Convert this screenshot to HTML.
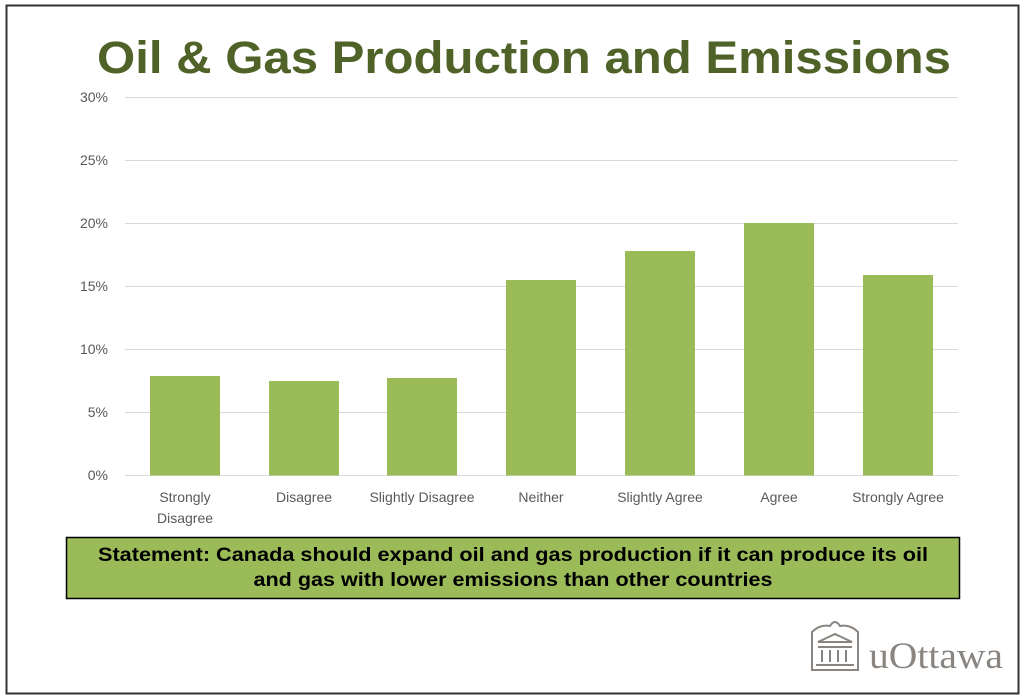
<!DOCTYPE html>
<html><head><meta charset="utf-8"><style>
html,body{margin:0;padding:0;background:#fff;}
svg{display:block;}
</style></head><body>
<svg width="1024" height="700" xmlns="http://www.w3.org/2000/svg" font-family="Liberation Sans, sans-serif">
<rect x="0" y="0" width="1024" height="700" fill="#fff"/>
<rect x="6.5" y="5.5" width="1012" height="688" fill="none" stroke="#333" stroke-width="2"/>
<text x="524" y="73" text-anchor="middle" font-size="45" font-weight="bold" fill="#4f6228" textLength="854" lengthAdjust="spacingAndGlyphs">Oil &amp; Gas Production and Emissions</text>
<g stroke="#d9d9d9" stroke-width="1">
<line x1="125" y1="97.5" x2="958" y2="97.5"/>
<line x1="125" y1="160.5" x2="958" y2="160.5"/>
<line x1="125" y1="223.5" x2="958" y2="223.5"/>
<line x1="125" y1="286.5" x2="958" y2="286.5"/>
<line x1="125" y1="349.5" x2="958" y2="349.5"/>
<line x1="125" y1="412.5" x2="958" y2="412.5"/>
<line x1="125" y1="475.5" x2="958" y2="475.5"/>
</g>
<g font-size="14" fill="#595959" text-anchor="end">
<text x="108" y="102">30%</text>
<text x="108" y="165">25%</text>
<text x="108" y="228">20%</text>
<text x="108" y="291">15%</text>
<text x="108" y="354">10%</text>
<text x="108" y="417">5%</text>
<text x="108" y="480">0%</text>
</g>
<g fill="#9bbb59">
<rect x="150" y="376" width="70" height="99.5"/>
<rect x="269" y="381" width="70" height="94.5"/>
<rect x="387" y="378" width="70" height="97.5"/>
<rect x="506" y="280" width="70" height="195.5"/>
<rect x="625" y="251" width="70" height="224.5"/>
<rect x="744" y="223" width="70" height="252.5"/>
<rect x="863" y="275" width="70" height="200.5"/>
</g>
<g font-size="14" fill="#595959" text-anchor="middle">
<text x="185" y="502">Strongly</text>
<text x="185" y="523">Disagree</text>
<text x="304" y="502">Disagree</text>
<text x="422" y="502">Slightly Disagree</text>
<text x="541" y="502">Neither</text>
<text x="660" y="502">Slightly Agree</text>
<text x="779" y="502">Agree</text>
<text x="898" y="502">Strongly Agree</text>
</g>
<rect x="66.5" y="537.5" width="893" height="61" fill="#9bbb59" stroke="#000" stroke-width="1.5"/>
<g font-size="19" font-weight="bold" fill="#000" text-anchor="middle">
<text x="513" y="561" textLength="830" lengthAdjust="spacingAndGlyphs">Statement: Canada should expand oil and gas production if it can produce its oil</text>
<text x="513" y="586" textLength="519" lengthAdjust="spacingAndGlyphs">and gas with lower emissions than other countries</text>
</g>
<g fill="none" stroke="#8a8580" stroke-width="2">
<path d="M812 670 L812 632 Q820 624 830 626 Q835 618 840 626 Q850 624 858 632 L858 670 Z"/>
<path d="M818 642 L835 634 L852 642 Z"/>
<line x1="818" y1="647" x2="852" y2="647"/>
<line x1="822" y1="650" x2="822" y2="662"/>
<line x1="830" y1="650" x2="830" y2="662"/>
<line x1="838" y1="650" x2="838" y2="662"/>
<line x1="846" y1="650" x2="846" y2="662"/>
<line x1="816" y1="665" x2="854" y2="665"/>
</g>
<text x="869" y="668" font-family="Liberation Serif, serif" font-size="37" fill="#8a8580" textLength="134" lengthAdjust="spacingAndGlyphs">uOttawa</text>
</svg>
</body></html>
